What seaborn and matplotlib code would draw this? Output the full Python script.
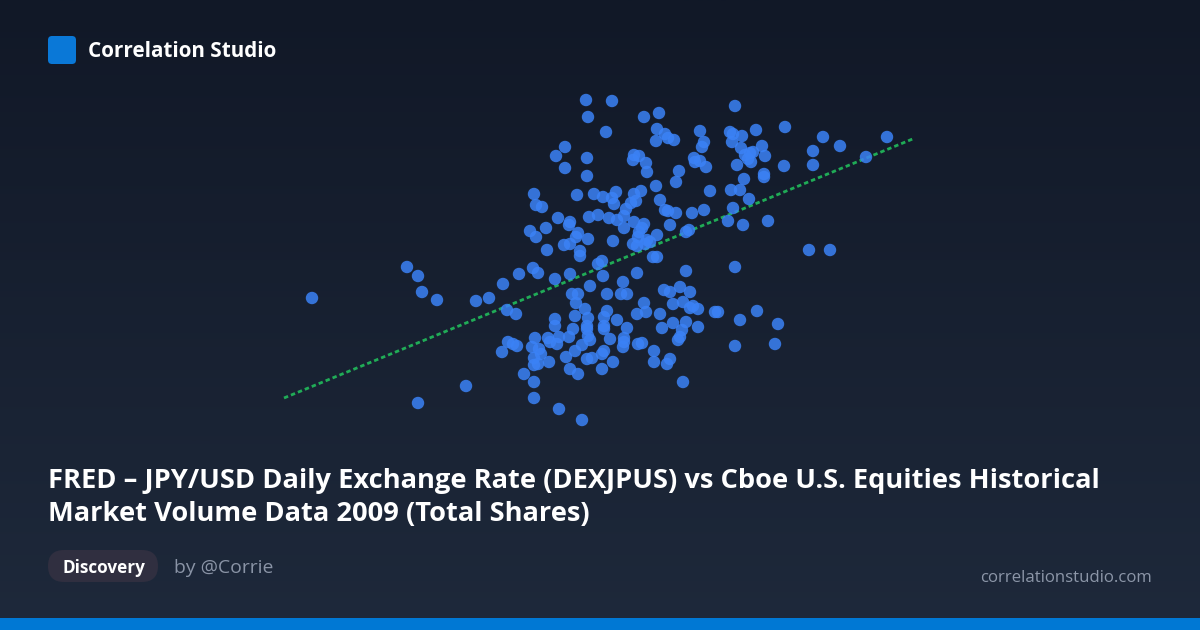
import matplotlib.pyplot as plt
import numpy as np
import pandas as pd
import seaborn as sns
from matplotlib.colors import LinearSegmentedColormap
from matplotlib.patches import FancyBboxPatch, Rectangle

# Scatter values (picture space: x to the right, y downward)
scatter_x = [
    312, 407, 418, 422, 437, 476, 489, 466, 418,
    586, 612, 588, 644, 606, 565, 556, 587, 565, 587,
    634, 639, 633, 646, 647,
    534, 577, 594, 603, 616, 612, 614, 634, 641,
    636, 631, 626, 624,
    536, 542, 558, 570, 569, 589, 598, 609, 617, 634, 644,
    624, 530, 546, 536, 578, 576, 588, 613, 639, 642, 638, 647,
    633, 637, 645, 650, 564, 570, 547, 580,
    580, 533, 538, 519, 503, 555, 570, 602, 598, 603, 637, 623, 590,
    572, 578, 576, 607, 621, 627, 644, 637, 646,
    585, 575, 607, 604, 617, 627, 555, 555, 588, 587, 587, 604, 604, 573,
    507, 516,
    535, 548, 550, 559, 569, 557, 582, 588, 590, 575, 610, 624, 624, 623, 638, 642,
    508, 513, 517, 502, 532, 539, 541, 534, 534, 538, 549, 566, 587, 592, 602, 604,
    613, 602, 570, 578, 524, 534, 534, 559, 582,
    735, 659, 657, 665, 668, 674, 656, 700, 730, 733, 742, 732, 756, 785,
    704, 702, 741, 745, 750, 753, 748, 751, 762, 765,
    694, 695, 700, 706, 737, 764, 764, 784,
    679, 676, 656, 710, 731, 740, 744, 749,
    660, 665, 668, 676, 692, 704, 733, 728, 743, 768, 670, 686, 689, 657,
    653, 657, 686, 735, 664, 670, 680, 690, 673, 683, 690, 693, 698,
    660, 673, 686, 698, 662, 682, 680, 678, 715, 718, 740, 757, 778, 735, 775,
    654, 654, 667, 670, 683,
    823, 887, 840, 813, 813, 866, 809, 830,
]
scatter_y = [
    298, 267, 276, 292, 300, 301, 298, 386, 403,
    100, 101, 117, 117, 132, 147, 156, 158, 168, 176,
    155, 156, 160, 163, 172,
    194, 195, 194, 197, 192, 198, 204, 194, 191,
    201, 203, 209, 216,
    205, 207, 218, 222, 225, 217, 215, 218, 220, 222, 224,
    228, 231, 228, 237, 233, 237, 239, 241, 232, 228, 237, 240,
    244, 246, 244, 242, 245, 244, 250, 251,
    256, 268, 273, 274, 284, 279, 274, 261, 264, 276, 273, 282, 286,
    294, 294, 303, 294, 294, 294, 303, 314, 312,
    309, 316, 311, 317, 320, 328, 319, 326, 318, 326, 329, 326, 329, 329,
    310, 314,
    338, 338, 342, 337, 337, 344, 345, 336, 340, 351, 339, 338, 342, 347, 344, 343,
    342, 344, 346, 352, 347, 349, 354, 358, 365, 364, 362, 357, 359, 358, 354, 351,
    362, 369, 369, 374, 374, 382, 398, 409, 420,
    106, 113, 129, 134, 138, 140, 141, 131, 132, 134, 136, 142, 130, 127,
    142, 147, 148, 155, 153, 152, 159, 162, 146, 156,
    158, 162, 161, 167, 165, 174, 177, 166,
    171, 182, 186, 191, 190, 190, 179, 199,
    200, 210, 211, 213, 213, 210, 208, 221, 225, 221, 225, 232, 230, 235,
    257, 257, 271, 267, 290, 292, 287, 292, 304, 302, 308, 306, 309,
    314, 323, 322, 327, 328, 330, 337, 340, 312, 312, 320, 311, 324, 346, 344,
    351, 362, 364, 359, 382,
    137, 137, 146, 151, 165, 157, 250, 250,
]

# Trend line end points as drawn in the reference
trend_x = [284, 915]
trend_y = [398, 138]

brand = "Correlation Studio"
title_lines = [
    "FRED \u2013 JPY/USD Daily Exchange Rate (DEXJPUS) vs Cboe U.S. Equities Historical",
    "Market Volume Data 2009 (Total Shares)",
]
tag = "Discovery"
author = "by @Corrie"
site = "correlationstudio.com"

df = pd.DataFrame({"x": scatter_x, "y": scatter_y})

sns.set_theme(style="white")
plt.rcParams['font.family'] = ['Open Sans', 'DejaVu Sans']

fig = plt.figure(figsize=(12, 6.3), dpi=100)
ax = fig.add_axes([0, 0, 1, 1])

# background gradient
cmap = LinearSegmentedColormap.from_list("bg", ["#111827", "#1e293b"])
grad = np.linspace(0, 1, 256).reshape(-1, 1)
ax.imshow(grad, aspect="auto", cmap=cmap, extent=[0, 1200, 630, 0], zorder=0)

sns.lineplot(x=trend_x, y=trend_y, ax=ax, color="#22c55e", alpha=0.85,
             linewidth=2.0, linestyle=(0, (1.6, 1.1)), zorder=2)
sns.scatterplot(data=df, x="x", y="y", ax=ax, s=80, color="#3b82f6",
                alpha=0.85, edgecolor="none", linewidth=0, zorder=3)

ax.set_xlim(0, 1200)
ax.set_ylim(630, 0)
ax.axis("off")


def fit_text(x, y, s, width_px, **kw):
    t = ax.text(x, y, s, **kw)
    fig.canvas.draw()
    w = t.get_window_extent().width
    t.set_fontsize(t.get_fontsize() * width_px / w)
    return t


# header
ax.add_patch(FancyBboxPatch((48, 36), 28, 28, boxstyle="round,pad=0,rounding_size=4",
                            facecolor="#0a78d7", edgecolor="none", zorder=4))
fit_text(88, 57, brand, 189, fontsize=15, weight="bold", color="white",
         va="baseline", zorder=5)

# title
t1 = fit_text(48, 488, title_lines[0], 1049, fontsize=20, weight="bold",
              color="white", va="baseline", zorder=5)
ax.text(48, 521, title_lines[1], fontsize=t1.get_fontsize(), weight="bold",
        color="white", va="baseline", zorder=5)

# footer
ax.add_patch(FancyBboxPatch((48, 550), 110, 32, boxstyle="round,pad=0,rounding_size=16",
                            facecolor="#302f40", edgecolor="none", zorder=4))
fit_text(62, 573, tag, 83, fontsize=12, weight="bold", color="white",
         va="baseline", zorder=5)
fit_text(174, 573, author, 99, fontsize=13, color="#8a94a6", va="baseline", zorder=5)
fit_text(980, 582, site, 170, fontsize=12, color="#8c96a8", va="baseline", zorder=5)

ax.add_patch(Rectangle((0, 618), 1200, 12, facecolor="#0078d4", edgecolor="none", zorder=4))

fig.savefig("out.png", dpi=100)
